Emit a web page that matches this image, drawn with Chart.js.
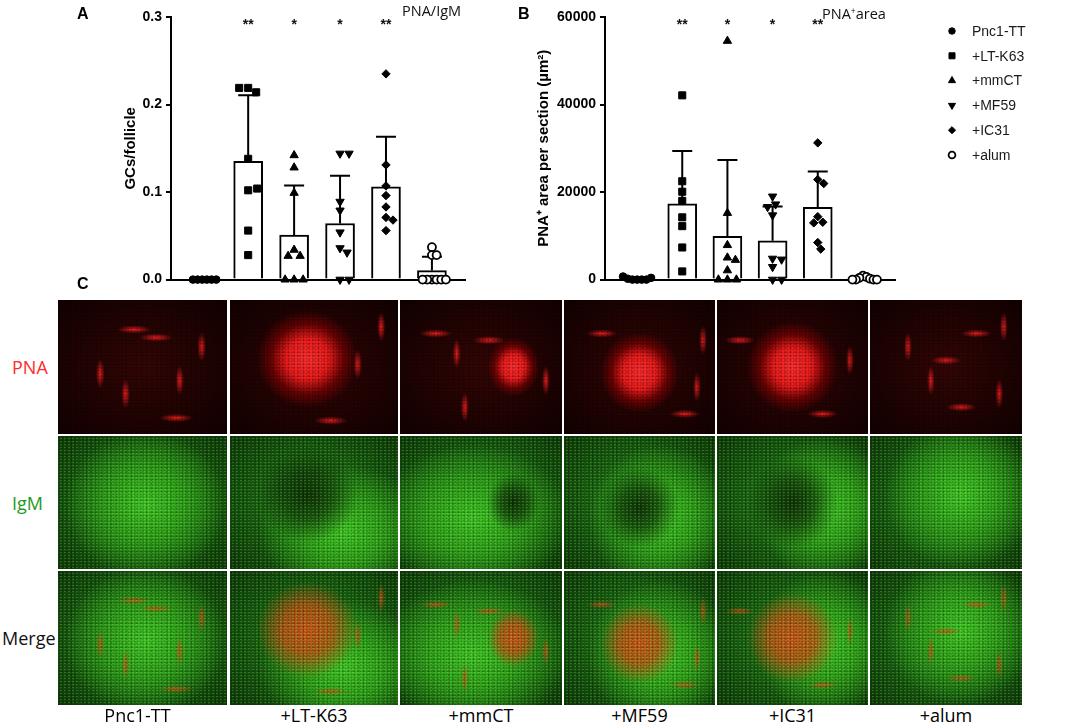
<!DOCTYPE html>
<html>
<head>
<meta charset="utf-8">
<script src="https://cdn.jsdelivr.net/npm/chart.js@4.4.1/dist/chart.umd.min.js"></script>
<style>
  html, body { margin: 0; padding: 0; background: #fff; }
  body { width: 1084px; height: 726px; position: relative; overflow: hidden; font-family: "Liberation Sans", Arial, sans-serif; }
  .abs { position: absolute; }
  .letter { font-weight: bold; font-size: 16px; line-height: 16px; color: #000; }
  .ptitle { font-family: "Open Sans", sans-serif; font-size: 14.5px; line-height: 16px; color: #111; }
  .ptitle sup { font-size: 8.5px; vertical-align: 5px; }
  .tissue { position: absolute; }
  .rowlab, .collab { font-family: "Open Sans", sans-serif; font-size: 18px; line-height: 22px; white-space: nowrap; }
  .collab { transform: translateX(-50%); color: #000; }
  canvas { position: absolute; }
</style>
</head>
<body>

<canvas id="chartA" width="420" height="292" style="left:60px;top:0"></canvas>
<canvas id="chartB" width="604" height="292" style="left:480px;top:0"></canvas>

<div class="abs letter" style="left:77px;top:6px">A</div>
<div class="abs letter" style="left:518px;top:6px">B</div>
<div class="abs letter" style="left:77px;top:276px">C</div>
<div class="abs ptitle" style="left:402px;top:3px">PNA/IgM</div>
<div class="abs ptitle" style="left:822px;top:3px">PNA<sup>+</sup>area</div>

<div id="tissue"></div>

<script>
// ── Data ────────────────────────────────────────────────────────────────────
const GROUPS = ['Pnc1-TT', '+LT-K63', '+mmCT', '+MF59', '+IC31', '+alum']
const SIG    = ['', '**', '*', '*', '**', '']

// A: GCs per follicle, one array per group (individual mice)
const GC_PNC1  = [0, 0, 0, 0, 0, 0]
const GC_LTK63 = [0.219, 0.214, 0.219, 0.138, 0.102, 0.104, 0.056, 0.028]
const GC_MMCT  = [0.142, 0.128, 0.099, 0.034, 0.027, 0.027, 0, 0, 0]
const GC_MF59  = [0.144, 0.144, 0.089, 0.079, 0.054, 0.036, 0.031, 0, 0]
const GC_IC31  = [0.235, 0.131, 0.107, 0.096, 0.083, 0.071, 0.068, 0.056]
const GC_ALUM  = [0.037, 0.028, 0.028, 0, 0, 0, 0, 0, 0]

// B: PNA+ area per section (µm²)
const AREA_PNC1  = [0, 0, 0, 0, 200, 400, 700]
const AREA_LTK63 = [42100, 22470, 20080, 17980, 14230, 12210, 7340, 1870]
const AREA_MMCT  = [54530, 15210, 7870, 5020, 4490, 2100, 0, 0, 0]
const AREA_MF59  = [19000, 17200, 16600, 14700, 4800, 4600, 2900, 0, 0]
const AREA_IC31  = [31240, 22850, 21950, 14380, 13110, 12960, 8460, 6970]
const AREA_ALUM  = [900, 600, 400, 200, 0, 0, 0, 0]

const A_TICKS = [0, 0.1, 0.2, 0.3]
const B_TICKS = [0, 20000, 40000, 60000]

// ── Marker styles (GraphPad-like symbols) ──────────────────────────────────
const MARKERS = [
  { pointStyle: 'circle',   radius: 3.8, rotation: 0,   fill: '#000', bw: 1 },
  { pointStyle: 'rect',     radius: 5,   rotation: 0,   fill: '#000', bw: 1 },
  { pointStyle: 'triangle', radius: 4.8, rotation: 0,   fill: '#000', bw: 1 },
  { pointStyle: 'triangle', radius: 4.8, rotation: 180, fill: '#000', bw: 1 },
  { pointStyle: 'rectRot',  radius: 4.2, rotation: 0,   fill: '#000', bw: 1 },
  { pointStyle: 'circle',   radius: 4,   rotation: 0,   fill: '#fff', bw: 1.8 },
]

const TICK_FONT  = { family: 'Liberation Sans', size: 14, weight: 'bold' }
const TITLE_FONT = { family: 'Liberation Sans', size: 15, weight: 'bold' }

function stats(vals) {
  const n = vals.length
  const mean = vals.reduce((a, b) => a + b, 0) / n
  const sd = Math.sqrt(vals.reduce((a, v) => a + (v - mean) ** 2, 0) / (n - 1))
  return { mean, sd }
}

// Upward-only SD whiskers, drawn right after the bars (points go on top)
function errorBarsPlugin(st) {
  return {
    id: 'errorBars',
    afterDatasetDraw(chart, args) {
      if (args.meta.type !== 'bar') return
      const { ctx, scales: { y } } = chart
      ctx.save()
      ctx.strokeStyle = '#000'
      ctx.lineWidth = 2
      args.meta.data.forEach((bar, i) => {
        if (!(st[i].sd > 0)) return
        const yTop = y.getPixelForValue(st[i].mean + st[i].sd)
        ctx.beginPath()
        ctx.moveTo(bar.x, bar.y)
        ctx.lineTo(bar.x, yTop)
        ctx.moveTo(bar.x - 10, yTop)
        ctx.lineTo(bar.x + 10, yTop)
        ctx.stroke()
      })
      ctx.restore()
    },
  }
}

function starsPlugin(level) {
  return {
    id: 'stars',
    afterDraw(chart) {
      const { ctx, scales: { x, y } } = chart
      ctx.save()
      ctx.font = 'bold 14px "Liberation Sans"'
      ctx.fillStyle = '#111'
      ctx.textAlign = 'center'
      ctx.textBaseline = 'middle'
      SIG.forEach((s, i) => { if (s) ctx.fillText(s, x.getPixelForValue(i), y.getPixelForValue(level) + 3) })
      ctx.restore()
    },
  }
}

// Symbol legend at the far right of panel B
const groupLegendPlugin = {
  id: 'groupLegend',
  afterDraw(chart) {
    const ctx = chart.ctx
    const x0 = chart.chartArea.right + 57
    ctx.save()
    ctx.font = '14px "Liberation Sans"'
    ctx.textBaseline = 'middle'
    GROUPS.forEach((g, i) => {
      const m = MARKERS[i]
      const yy = 31 + i * 24.8
      ctx.fillStyle = m.fill
      ctx.strokeStyle = '#000'
      ctx.lineWidth = m.bw
      Chart.helpers.drawPoint(ctx, { pointStyle: m.pointStyle, radius: m.radius * 0.85, rotation: m.rotation, borderWidth: m.bw }, x0, yy)
      ctx.fillStyle = '#1a1a1a'
      ctx.fillText(g, x0 + 20, yy + 1)
    })
    ctx.restore()
  },
}

// Beeswarm-style horizontal spread of the dots inside each bar
function spreadPoints(chart) {
  const xs = chart.scales.x, ys = chart.scales.y
  const pxPerX = xs.getPixelForValue(1) - xs.getPixelForValue(0)
  chart.data.datasets.forEach((ds, d) => {
    if (ds.type !== 'scatter') return
    const g = d - 1
    const minD = ds.pointRadius * 1.7
    const placed = []
    ds.data.forEach(pt => {
      const py = ys.getPixelForValue(pt.y)
      let off = 0
      for (let k = 0; k < 200; k++) {
        const cand = (k % 2 ? 1 : -1) * Math.ceil(k / 2)
        if (placed.every(p => Math.hypot(cand - p.dx, py - p.py) >= minD)) { off = cand; break }
      }
      placed.push({ dx: off, py })
    })
    const maxAbs = Math.max(...placed.map(p => Math.abs(p.dx)), 1)
    const k = Math.min(1, 14 / maxAbs)
    ds.data.forEach((pt, i) => { pt.x = g + (placed[i].dx * k) / pxPerX })
  })
  chart.update('none')
}

function buildChart(id, groups, cfg) {
  const st = groups.map(stats)
  const datasets = [{
    type: 'bar',
    data: st.map((s, i) => ({ x: i, y: s.mean })),
    backgroundColor: '#fff',
    borderColor: '#000',
    borderWidth: 2,
    borderSkipped: 'start',
    barThickness: 29,
    order: 2,
  }]
  groups.forEach((vals, g) => {
    const m = MARKERS[g]
    datasets.push({
      type: 'scatter',
      label: GROUPS[g],
      data: vals.map(v => ({ x: g, y: v })),
      pointStyle: m.pointStyle,
      pointRadius: m.radius,
      pointRotation: m.rotation,
      pointBackgroundColor: m.fill,
      pointBorderColor: '#000',
      pointBorderWidth: m.bw,
      pointHoverRadius: m.radius,
      clip: false,
      order: 1,
    })
  })

  const chart = new Chart(document.getElementById(id), {
    type: 'scatter',
    data: { datasets },
    plugins: [errorBarsPlugin(st), starsPlugin(cfg.starLevel), ...(cfg.extra || [])],
    options: {
      responsive: false,
      animation: false,
      events: [],
      layout: { padding: cfg.padding },
      plugins: { legend: { display: false }, tooltip: { enabled: false } },
      scales: {
        x: {
          type: 'linear',
          min: cfg.xMin,
          max: cfg.xMax,
          offset: false,
          ticks: { display: false },
          grid: { display: true, drawOnChartArea: false, drawTicks: false },
          border: { color: '#000', width: 2 },
          afterFit: s => { s.height = 0 },
        },
        y: {
          min: cfg.ticks[0],
          max: cfg.ticks[cfg.ticks.length - 1],
          afterBuildTicks: s => { s.ticks = cfg.ticks.map(v => ({ value: v })) },
          ticks: { color: '#000', font: TICK_FONT, padding: 4, callback: cfg.fmt },
          grid: { drawOnChartArea: false, drawTicks: true, tickLength: 5, color: '#000', lineWidth: 2 },
          border: { color: '#000', width: 2 },
          title: { display: true, text: cfg.title, color: '#000', font: TITLE_FONT, padding: { top: 2, bottom: 0 } },
          afterFit: s => { s.width = cfg.axisWidth },
        },
      },
    },
  })
  spreadPoints(chart)
  return chart
}

buildChart('chartA', [GC_PNC1, GC_LTK63, GC_MMCT, GC_MF59, GC_IC31, GC_ALUM], {
  ticks: A_TICKS,
  fmt: v => v.toFixed(1),
  title: 'GCs/follicle',
  starLevel: 0.294,
  xMin: -0.68, xMax: 5.72,
  padding: { left: 60, top: 17, right: 15, bottom: 9 },
  axisWidth: 51,
})

buildChart('chartB', [AREA_PNC1, AREA_LTK63, AREA_MMCT, AREA_MF59, AREA_IC31, AREA_ALUM], {
  ticks: B_TICKS,
  fmt: v => String(v),
  title: 'PNA\u207A area per section (\u00B5m\u00B2)',
  starLevel: 58800,
  xMin: -0.71, xMax: 5.71,
  padding: { left: 53, top: 17, right: 189, bottom: 9 },
  axisWidth: 72,
  extra: [groupLegendPlugin],
})

// ── Panel C: stylised micrographs (PNA / IgM / merge) ──────────────────────
const COL_L = [58, 230, 400, 564, 717, 870]
const COL_R = [227, 398, 562, 715, 868, 1022]
const ROW_T = [300, 436, 571]
const ROW_B = [434, 569, 705]
// germinal centre [cx%, cy%, rx%, ry%], follicle [cx%, cy%, rx%, ry%],
// red strands [x%, y%, vertical?]
const TISSUE = [
  { gc: null,             fol: [52, 52, 48, 55], strands: [[72, 60, 1], [58, 28, 0], [40, 70, 1], [70, 88, 0], [25, 55, 1], [45, 22, 0], [85, 35, 1]] },
  { gc: [46, 44, 30, 36], fol: [68, 72, 50, 50], strands: [[76, 48, 1], [60, 90, 0], [90, 20, 1]] },
  { gc: [70, 50, 16, 22], fol: [45, 62, 60, 55], strands: [[35, 40, 1], [55, 30, 0], [90, 60, 1], [40, 80, 1], [22, 25, 0]] },
  { gc: [50, 54, 26, 30], fol: [64, 62, 48, 55], strands: [[88, 65, 1], [80, 85, 0], [25, 25, 0], [92, 30, 1]] },
  { gc: [50, 50, 30, 34], fol: [72, 55, 45, 55], strands: [[88, 45, 1], [70, 85, 0], [15, 30, 0]] },
  { gc: null,             fol: [60, 45, 50, 55], strands: [[70, 25, 0], [85, 70, 1], [40, 60, 1], [25, 35, 1], [60, 80, 0], [88, 20, 1], [50, 45, 0]] },
]
const MESH  = 'radial-gradient(circle, rgba(0,0,0,0.28) 0.6px, rgba(0,0,0,0) 1.2px) 0 0 / 3px 3px'
const MESH2 = 'radial-gradient(circle, rgba(0,0,0,0.22) 0.8px, rgba(0,0,0,0) 1.5px) 1px 2px / 5px 4px'
const SPECK = 'radial-gradient(circle, rgba(170,255,110,0.22) 0.6px, rgba(0,0,0,0) 1.2px) 1px 1px / 4px 3px'

function ell(e, stops) {
  return `radial-gradient(ellipse ${e[2]}% ${e[3]}% at ${e[0]}% ${e[1]}%, ${stops})`
}
function strandLayers(list, col) {
  return list.map(s => {
    const size = s[2] ? '2.5% 11%' : '10% 3%'
    return `radial-gradient(ellipse ${size} at ${s[0]}% ${s[1]}%, ${col}, rgba(0,0,0,0))`
  })
}

function panelBackground(row, t) {
  const layers = []
  if (row === 0) {
    layers.push(MESH, MESH2)
    if (t.gc) layers.push(ell(t.gc, '#ff3030 0%, #ec1c1c 42%, rgba(170,0,0,0.5) 72%, rgba(0,0,0,0) 100%'))
    layers.push(...strandLayers(t.strands, 'rgba(245,30,30,0.95)'))
    layers.push('radial-gradient(ellipse at 50% 50%, #350505, #120000)')
  } else {
    layers.push(SPECK, MESH, MESH2)
    if (t.gc) {
      if (row === 2) layers.push(ell(t.gc, 'rgba(215,85,25,0.95) 0%, rgba(200,80,20,0.8) 50%, rgba(120,90,10,0) 100%'))
      else layers.push(ell(t.gc, 'rgba(12,45,6,0.95) 0%, rgba(15,55,8,0.7) 50%, rgba(15,55,8,0) 100%'))
    }
    if (row === 2) layers.push(...strandLayers(t.strands, 'rgba(210,80,20,0.75)'))
    layers.push(ell(t.fol, '#40c826 0%, #2fa41a 45%, rgba(30,110,14,0) 100%'))
    layers.push('radial-gradient(ellipse at 50% 50%, #23861a, #0c3a07)')
  }
  return layers.join(', ')
}

const host = document.getElementById('tissue')
for (let r = 0; r < 3; r++) {
  for (let c = 0; c < 6; c++) {
    const d = document.createElement('div')
    d.className = 'tissue'
    d.style.left = COL_L[c] + 'px'
    d.style.top = ROW_T[r] + 'px'
    d.style.width = (COL_R[c] - COL_L[c]) + 'px'
    d.style.height = (ROW_B[r] - ROW_T[r]) + 'px'
    d.style.background = panelBackground(r, TISSUE[c])
    host.appendChild(d)
  }
}

const ROW_LABELS = [['PNA', '#ff2a2a'], ['IgM', '#1e9a1e'], ['Merge', '#111']]
ROW_LABELS.forEach(([txt, col], r) => {
  const d = document.createElement('div')
  d.className = 'abs rowlab'
  d.textContent = txt
  d.style.color = col
  d.style.left = (txt === 'Merge' ? 2 : 12) + 'px'
  d.style.top = ((ROW_T[r] + ROW_B[r]) / 2 - 11) + 'px'
  host.appendChild(d)
})
GROUPS.forEach((g, c) => {
  const d = document.createElement('div')
  d.className = 'abs collab'
  d.textContent = g
  d.style.left = ((COL_L[c] + COL_R[c]) / 2 + (c === 0 ? -5 : 0)) + 'px'
  d.style.top = '704px'
  host.appendChild(d)
})
</script>
</body>
</html>
